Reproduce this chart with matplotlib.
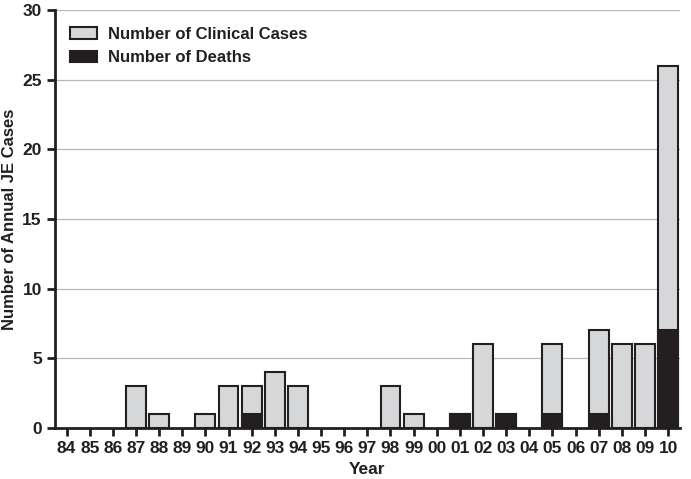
import matplotlib
matplotlib.use('Agg')
import matplotlib.pyplot as plt
import numpy as np

years = ['84', '85', '86', '87', '88', '89', '90', '91', '92', '93', '94', '95', '96', '97',
         '98', '99', '00', '01', '02', '03', '04', '05', '06', '07', '08', '09', '10']
clinical = [0, 0, 0, 3, 1, 0, 1, 3, 3, 4, 3, 0, 0, 0, 3, 1, 0, 1, 6, 1, 0, 6, 0, 7, 6, 6, 26]
deaths = [0, 0, 0, 0, 0, 0, 0, 0, 1, 0, 0, 0, 0, 0, 0, 0, 0, 1, 0, 1, 0, 1, 0, 1, 0, 0, 7]

plt.rcParams['font.family'] = ['Liberation Sans', 'DejaVu Sans']
plt.rcParams['font.weight'] = 'bold'

fig = plt.figure(figsize=(6.91, 4.79), dpi=100)
ax = fig.add_axes([0.0796, 0.1065, 0.904, 0.8725])

x = np.arange(len(years))
clin = np.array(clinical)
dth = np.array(deaths)
# zero-height bars are not drawn in the original
ax.bar(x[clin > 0], clin[clin > 0], width=0.86, color='#d6d7d9', edgecolor='#231f20',
       linewidth=1.5, label='Number of Clinical Cases', zorder=3)
ax.bar(x[dth > 0], dth[dth > 0], width=0.86, color='#231f20', edgecolor='#231f20',
       linewidth=1.5, label='Number of Deaths', zorder=3)

ax.set_xlim(-0.5, 26.5)
ax.set_ylim(0, 30)
ax.set_yticks(range(0, 31, 5))
ax.set_xticks(x)
ax.set_xticklabels(years)
ax.yaxis.grid(True, color='#b8b8b8', linewidth=0.9, zorder=0)

for side in ['top', 'right']:
    ax.spines[side].set_visible(False)
ax.spines['left'].set_linewidth(2)
ax.spines['bottom'].set_linewidth(2)
ax.spines['left'].set_color('#231f20')
ax.spines['bottom'].set_color('#231f20')
ax.spines['bottom'].set_zorder(4)
ax.tick_params(axis='both', width=2, length=6, labelsize=12.5, color='#231f20',
               labelcolor='#231f20')

ax.set_xlabel('Year', fontsize=12.5, fontweight='bold', color='#231f20')
ax.set_ylabel('Number of Annual JE Cases', fontsize=12, fontweight='bold', color='#231f20')

ax.legend(loc='upper left', frameon=False, fontsize=12, handlelength=1.6,
          handletextpad=0.7, bbox_to_anchor=(0.0, 0.995), labelcolor='#231f20')

plt.savefig('out.png', dpi=100)
plt.close()
